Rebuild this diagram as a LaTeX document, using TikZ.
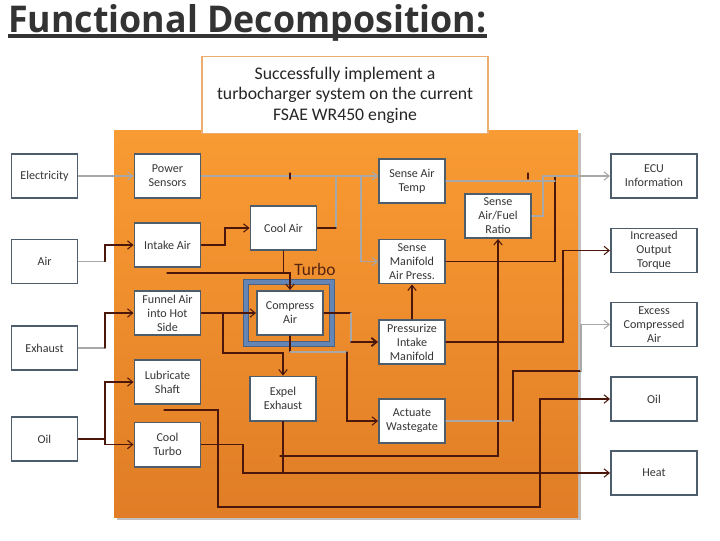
\documentclass[tikz,border=0pt]{standalone}
\usepackage{fontspec}
\setmainfont{Carlito}
\newfontfamily\titlefont{Open Sans}
\usetikzlibrary{arrows.meta}

\definecolor{boxedge}{HTML}{4E5D6C}
\definecolor{boxtext}{HTML}{363636}
\definecolor{wirecol}{HTML}{4A170A}
\definecolor{litecol}{HTML}{A8A8A8}
\definecolor{orangetop}{HTML}{F99B33}
\definecolor{orangebot}{HTML}{E07D26}
\definecolor{goaledge}{HTML}{EBAE6E}
\definecolor{turboedge}{HTML}{4A6385}
\definecolor{turbofill}{HTML}{6585B5}
\definecolor{turbotext}{HTML}{55230F}

\begin{document}
\begin{tikzpicture}[%
        x = 0.025cm, y = -0.025cm,
        line width = 0.4pt,
        line cap = round,
        > = {Straight Barb[length = 1.3mm, width = 2.1mm]},
        block/.style = {draw = boxedge, line width = 1.4pt, fill = white,
            minimum width = 1.65cm, minimum height = 1.1cm, inner sep = 1pt,
            align = center, text = boxtext, font = \fontsize{8.6}{10}\selectfont},
        outblock/.style = {block, minimum width = 2.15cm},
        wire/.style = {draw = wirecol, line width = 0.75pt},
        lite/.style = {draw = litecol, line width = 0.75pt}
    ]

        % Page frame and title.
        \useasboundingbox (0, 0) rectangle (720, 540);
        \node[anchor = north west, inner sep = 0pt, text = black!80] (title) at (8, 4)
            {\resizebox{11.95cm}{0.7cm}{\titlefont\bfseries Functional Decomposition:}};
        \draw[black!80, line width = 2.2pt, line cap = butt] (title.south west |- 0, 36) to (title.south east |- 0, 36);

        % The orange system boundary and the goal on top of it.
        \fill[black!25] (117, 133) rectangle (581, 520);
        \shade[top color = orangetop, bottom color = orangebot] (114, 130) rectangle (578, 517);
        \node[draw = goaledge, line width = 0.8pt, fill = white, minimum width = 7.15cm,
            minimum height = 1.93cm, align = center, text = black!85,
            font = \fontsize{12.6}{14.6}\selectfont] (goal) at (345, 95)
            {Successfully implement a\\turbocharger system on the current\\FSAE WR450 engine};

        % Frame round the turbo.
        \draw[draw = turboedge, line width = 0.7pt, double = turbofill, double distance = 3.2pt]
            (246, 282) rectangle (332, 344);
        \node[text = turbotext, font = \fontsize{12.4}{14}\selectfont] (turbo) at (315, 270) {Turbo};

        % Inputs.
        \node[block] (elec)    at (44.5, 176)   {Electricity};
        \node[block] (air)     at (44.5, 261.5) {Air};
        \node[block] (exhaust) at (44.5, 348)   {Exhaust};
        \node[block] (oil)     at (44.5, 439)   {Oil};

        % Functions inside the system.
        \node[block] (power)     at (167.5, 176)   {Power\\Sensors};
        \node[block] (intake)    at (167.5, 245)   {Intake Air};
        \node[block] (funnel)    at (167.5, 313)   {Funnel Air\\into Hot\\Side};
        \node[block] (lube)      at (167.5, 382)   {Lubricate\\Shaft};
        \node[block] (coolturbo) at (167.5, 444.5) {Cool\\Turbo};
        \node[block] (coolair)   at (283.5, 228)   {Cool Air};
        \node[block] (compress)  at (290, 313)     {Compress\\Air};
        \node[block] (expel)     at (283, 398.5)   {Expel\\Exhaust};
        \node[block] (temp)      at (412, 181)     {Sense Air\\Temp};
        \node[block] (map)       at (412, 261.5)   {Sense\\Manifold\\Air Press.};
        \node[block] (press)     at (412, 342)     {Pressurize\\Intake\\Manifold};
        \node[block] (gate)      at (412, 421)     {Actuate\\Wastegate};
        \node[block] (afr)       at (498, 216)     {Sense\\Air/Fuel\\Ratio};

        % Outputs.
        \node[outblock] (ecu)    at (654, 176)   {ECU\\Information};
        \node[outblock] (torque) at (654, 250.5) {Increased\\Output\\Torque};
        \node[outblock] (excess) at (654, 324.5) {Excess\\Compressed\\Air};
        \node[outblock] (oilout) at (654, 399)   {Oil};
        \node[outblock] (heat)   at (654, 473)   {Heat};

        % Junctions of the connectors.
        \coordinate (airj) at (105, 261.5);
        \coordinate (exhj) at (105, 348);
        \coordinate (oilj) at (105, 439);
        \coordinate (pwrj) at (361, 176);
        \coordinate (coolj) at (336, 176);
        \coordinate (coolk) at (336, 228);
        \coordinate (intj) at (225, 245);
        \coordinate (intk) at (167, 273);
        \coordinate (cmpj) at (283.5, 273);
        \coordinate (funj) at (223, 313);
        \coordinate (expj) at (283, 353);
        \coordinate (cmpb) at (290, 352);
        \coordinate (gatj) at (347, 352);
        \coordinate (prsj) at (351, 313);
        \coordinate (prsk) at (351, 342);
        \coordinate (trqj) at (563, 250.5);
        \coordinate (ecuj) at (555, 176);
        \coordinate (tmpj) at (555, 181);
        \coordinate (afrj) at (543, 176);
        \coordinate (afrk) at (280, 456);
        \coordinate (ctj) at (243, 473);
        \coordinate (heatj) at (283, 473);
        \coordinate (lubj) at (164, 410);
        \coordinate (lubk) at (218, 507);
        \coordinate (lubl) at (540, 399);
        \coordinate (gtj) at (513, 421);
        \coordinate (gtk) at (581, 371);

        % Inputs into the functions.
        \draw[lite, ->] (elec) to (power);
        \draw[lite] (air) to (airj);
        \draw[wire, ->] (airj) |- (intake);
        \draw[lite] (exhaust) to (exhj);
        \draw[wire, ->] (exhj) |- (funnel);
        \draw[wire] (oil) to (oilj);
        \draw[wire, ->] (oilj) |- (lube);
        \draw[wire, ->] (oilj) |- (coolturbo);

        % Sensors and air path.
        \draw[lite, ->] (power) to (power.east -| temp.west);
        \draw[wire] (290, 173) to (290, 179);
        \draw[lite, ->] (pwrj) |- (map);
        \draw[lite] (coolj) to (coolk);
        \draw[wire] (coolair) to (coolk);
        \draw[wire, ->] (intake) to (intj) |- (coolair);
        \draw[wire] (coolair) to (cmpj);
        \draw[wire, ->] (intk) -| (compress);
        \draw[wire, ->] (funnel) to (compress);
        \draw[wire, ->] (funj) |- (expj) to (expel);
        \draw[wire] (compress) to (cmpb);
        \draw[lite] (cmpb) to (gatj);
        \draw[wire, ->] (gatj) |- (gate);
        \draw[wire] (compress) to (prsj);
        \draw[lite] (prsj) to (prsk);
        \draw[wire, ->, line width = 1.3pt] (prsk) to (press);
        \draw[wire, ->] (press) to (map);

        % Outputs of the functions.
        \draw[wire, ->] (press) -| (trqj) to (torque);
        \draw[wire] (map) -| (ecuj);
        \draw[lite] (temp) to (tmpj);
        \draw[lite] (afr) -| (afrj);
        \draw[wire] (528, 173) to (528, 179);
        \draw[lite, ->] (afrj) to (ecu);
        \draw[wire, ->] (afrk) -| (afr);
        \draw[wire, ->] (expel) |- (heat);
        \draw[wire] (coolturbo) -| (ctj) to (heatj);
        \draw[wire, ->] (lubj) -| (lubk) -| (lubl) to (oilout);
        \draw[lite] (gate) to (gtj);
        \draw[wire] (gtj) |- (gtk);
        \draw[lite, ->] (gtk) |- (excess);
    \end{tikzpicture}
\end{document}
